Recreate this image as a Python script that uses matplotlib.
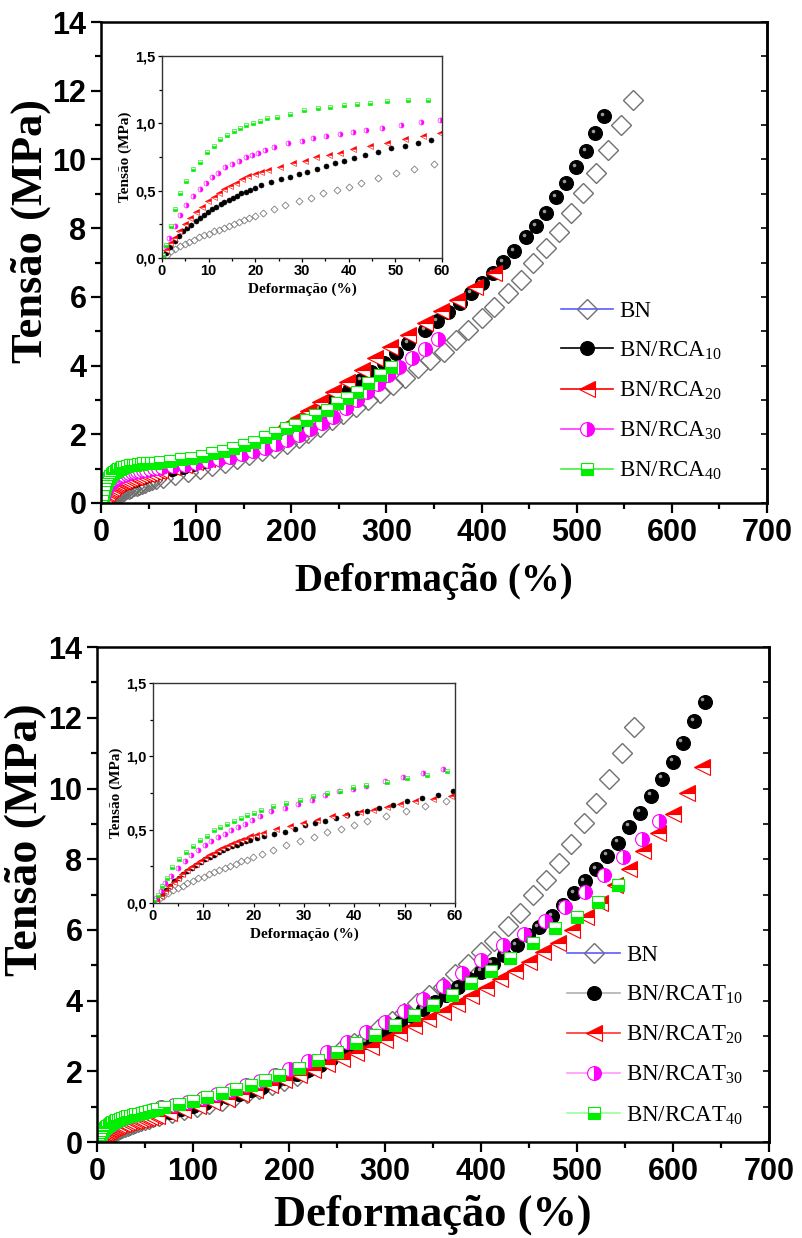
import matplotlib
matplotlib.use("Agg")
import matplotlib.pyplot as plt
from matplotlib.lines import Line2D
from matplotlib.ticker import MultipleLocator
from matplotlib.transforms import offset_copy
from matplotlib import font_manager

# ---------------- data ----------------
# strain (%) / stress (MPa); "_in" = 0-60 % detail shown in the insets,
# "_hi" = the rest of the curve in the main plot

# neat rubber (same in both panels)
bn_x_in = [1.1, 2.0, 2.9, 3.9, 4.9, 5.9, 6.8, 7.9, 9.0, 10.1, 11.1, 12.2, 13.2, 14.4, 15.4, 16.4,
           17.5, 18.6, 19.9, 21.6, 23.9, 26.4, 29.3, 32.0, 34.5, 37.4, 40.0, 42.6, 46.3, 50.2, 54.1, 58.2]
bn_y_in = [0.025, 0.05, 0.067, 0.086, 0.104, 0.118, 0.136, 0.153, 0.168, 0.18, 0.197, 0.21, 0.222, 0.239,
           0.252, 0.264, 0.284, 0.296, 0.313, 0.333, 0.363, 0.395, 0.42, 0.449, 0.481, 0.506, 0.53, 0.56,
           0.592, 0.629, 0.659, 0.696]
bn_x_hi = [65, 78, 91, 104, 117, 130, 143, 156, 169, 182, 195, 208, 218, 230, 243, 254, 268, 281, 293, 307,
           320, 333, 346, 360, 373, 386, 400, 413, 428, 441, 454, 468, 481, 494, 507, 520, 533, 547, 559]
bn_y_hi = [0.74, 0.82, 0.9, 0.98, 1.07, 1.17, 1.28, 1.39, 1.5, 1.6, 1.72, 1.88, 2.04, 2.21, 2.42, 2.6, 2.79,
           3.0, 3.2, 3.43, 3.64, 3.93, 4.16, 4.39, 4.74, 5.03, 5.38, 5.70, 6.11, 6.49, 6.98, 7.42, 7.89, 8.44,
           9.02, 9.6, 10.27, 11.0, 11.73]

# top panel: BN/RCA
rca10_x_in = [0.9, 1.8, 2.7, 3.6, 4.5, 5.4, 6.3, 7.2, 8.1, 9.0, 9.9, 10.8, 11.6, 12.6, 13.4, 14.4, 15.2, 16.1,
              17.0, 17.9, 18.8, 19.9, 21.3, 23.4, 25.4, 27.4, 29.4, 31.1, 33.2, 35.2, 37.1, 39.0, 41.1, 43.6,
              46.3, 49.1, 52.0, 54.9, 57.6]
rca10_y_in = [0.04, 0.08, 0.123, 0.16, 0.197, 0.222, 0.247, 0.271, 0.296, 0.321, 0.34, 0.363, 0.382, 0.4,
              0.414, 0.432, 0.449, 0.464, 0.479, 0.493, 0.506, 0.523, 0.543, 0.567, 0.587, 0.604, 0.622, 0.641,
              0.661, 0.683, 0.703, 0.723, 0.745, 0.765, 0.79, 0.814, 0.831, 0.856, 0.876]
rca10_x_hi = [64, 75, 86, 97, 108, 119, 130, 141, 152, 163, 174, 185, 196, 207, 218, 229, 240, 251, 262, 273,
              284, 297, 310, 323, 341, 353, 365, 377, 389, 400, 412, 423, 434, 447, 457, 468, 478, 489, 499,
              510, 519, 529]
rca10_y_hi = [0.92, 0.99, 1.06, 1.13, 1.21, 1.3, 1.4, 1.5, 1.61, 1.73, 1.86, 2.0, 2.16, 2.33, 2.52, 2.72, 2.93,
              3.14, 3.36, 3.58, 3.8, 4.07, 4.37, 4.66, 5.03, 5.30, 5.56, 5.83, 6.11, 6.4, 6.7, 7.01, 7.33, 7.74,
              8.06, 8.44, 8.9, 9.31, 9.78, 10.24, 10.77, 11.26]

rca20_x_in = [0.9, 1.8, 2.6, 3.6, 4.9, 6.1, 7.4, 8.6, 9.9, 11.1, 12.2, 13.4, 14.6, 15.9, 17.2, 18.4, 19.9, 21.3,
              22.7, 25.2, 28.1, 30.6, 33.1, 35.7, 38.1, 40.9, 44.5, 48.2, 52.0, 55.9, 59.5]
rca20_y_in = [0.06, 0.11, 0.148, 0.197, 0.254, 0.296, 0.345, 0.38, 0.42, 0.45, 0.486, 0.51, 0.538, 0.56, 0.587,
              0.61, 0.624, 0.64, 0.654, 0.678, 0.703, 0.723, 0.748, 0.765, 0.782, 0.807, 0.831, 0.856, 0.883,
              0.906, 0.93]
rca20_x_hi = [62, 75, 87, 99, 111, 123, 135, 147, 159, 171, 183, 195, 207, 218, 230, 244, 259, 274, 288, 304,
              323, 341, 357, 374, 393, 413]
rca20_y_hi = [0.96, 1.04, 1.12, 1.2, 1.29, 1.39, 1.5, 1.62, 1.75, 1.9, 2.07, 2.26, 2.46, 2.67, 2.95, 3.23, 3.52,
              3.87, 4.22, 4.54, 4.89, 5.24, 5.59, 5.91, 6.29, 6.69]

rca30_x_in = [0.8, 1.6, 2.7, 3.9, 5.2, 6.6, 8.1, 9.4, 10.8, 12.1, 13.6, 15.0, 16.4, 17.9, 19.3, 20.6, 22.0, 24.1,
              27.0, 29.9, 32.4, 35.2, 38.1, 40.9, 43.8, 47.2, 51.3, 55.4, 59.5]
rca30_y_in = [0.086, 0.148, 0.234, 0.32, 0.395, 0.46, 0.513, 0.56, 0.605, 0.634, 0.674, 0.698, 0.723, 0.748,
              0.765, 0.782, 0.802, 0.827, 0.851, 0.868, 0.888, 0.906, 0.92, 0.935, 0.95, 0.967, 0.987, 1.007, 1.024]
rca30_x_hi = [64, 76, 88, 100, 112, 124, 136, 148, 160, 172, 184, 196, 208, 220, 232, 244, 257, 269, 280, 291,
              302, 313, 327, 341, 354]
rca30_y_hi = [1.05, 1.08, 1.12, 1.16, 1.22, 1.28, 1.35, 1.42, 1.5, 1.6, 1.72, 1.84, 1.98, 2.15, 2.33, 2.5, 2.76,
              3.0, 3.23, 3.46, 3.73, 3.96, 4.22, 4.48, 4.77]

rca40_x_in = [0.3, 0.9, 1.9, 2.7, 3.9, 5.2, 6.6, 8.2, 9.7, 11.1, 12.5, 13.9, 15.4, 16.8, 18.1, 19.6, 21.1, 22.5,
              24.6, 27.5, 30.4, 33.4, 36.1, 38.9, 41.8, 44.6, 48.2, 52.7, 57.0]
rca40_y_in = [0.02, 0.1, 0.24, 0.365, 0.486, 0.57, 0.66, 0.716, 0.79, 0.834, 0.883, 0.913, 0.945, 0.967, 0.987,
              1.0, 1.02, 1.04, 1.05, 1.07, 1.10, 1.11, 1.12, 1.135, 1.147, 1.152, 1.165, 1.172, 1.172]
rca40_x_hi = [62, 73, 84, 95, 106, 117, 128, 139, 150, 161, 172, 183, 194, 204, 215, 225, 238, 248, 259, 269,
              281, 293, 305]
rca40_y_hi = [1.19, 1.23, 1.27, 1.32, 1.38, 1.45, 1.52, 1.6, 1.69, 1.79, 1.91, 2.04, 2.18, 2.27, 2.42, 2.56,
              2.71, 2.91, 3.06, 3.23, 3.49, 3.73, 3.96]

# bottom panel: BN/RCAT
rcat10_x_in = [0.8, 1.7, 2.5, 3.3, 4.2, 5.1, 6.0, 6.8, 7.8, 8.6, 9.5, 10.4, 11.3, 12.1, 13.1, 13.9, 14.8, 15.7,
               16.6, 17.4, 18.4, 19.2, 20.6, 22.0, 24.1, 26.2, 28.2, 30.2, 32.2, 34.2, 36.3, 38.5, 40.5, 42.6,
               45.0, 47.7, 50.4, 53.4, 56.7, 59.7]
rcat10_y_in = [0.018, 0.057, 0.091, 0.118, 0.148, 0.17, 0.198, 0.22, 0.239, 0.261, 0.28, 0.3, 0.314, 0.33,
               0.345, 0.359, 0.373, 0.386, 0.398, 0.409, 0.42, 0.432, 0.443, 0.455, 0.47, 0.482, 0.505, 0.53,
               0.545, 0.561, 0.58, 0.6, 0.614, 0.63, 0.65, 0.67, 0.693, 0.716, 0.739, 0.761]
rcat10_x_hi = [64, 76, 88, 100, 112, 124, 136, 148, 160, 172, 184, 196, 208, 220, 232, 244, 256, 268, 280, 292,
               304, 316, 328, 340, 352, 364, 376, 388, 400, 412, 424, 437, 449, 460, 474, 485, 497, 508, 520,
               531, 543, 554, 566, 577, 589, 600, 610, 622, 633]
rcat10_y_hi = [0.79, 0.86, 0.94, 1.02, 1.1, 1.18, 1.27, 1.36, 1.46, 1.57, 1.68, 1.8, 1.92, 2.05, 2.19, 2.34,
               2.49, 2.65, 2.82, 2.99, 3.17, 3.36, 3.56, 3.76, 3.96, 4.17, 4.38, 4.6, 4.82, 5.05, 5.3, 5.58, 5.86,
               6.09, 6.4, 6.71, 7.05, 7.39, 7.73, 8.1, 8.47, 8.92, 9.32, 9.8, 10.28, 10.76, 11.3, 11.9, 12.46]

rcat20_x_in = [0.7, 1.5, 2.3, 3.2, 4.1, 5.0, 5.8, 6.8, 7.6, 8.5, 9.4, 10.3, 11.1, 12.1, 12.9, 13.8, 14.7, 15.6,
               16.4, 17.4, 18.2, 19.2, 20.4, 21.9, 24.5, 27.2, 29.8, 32.5, 35.5, 38.1, 41.1, 43.8, 46.4, 49.1,
               52.1, 55.6, 59.3]
rcat20_y_in = [0.011, 0.045, 0.08, 0.114, 0.145, 0.17, 0.198, 0.223, 0.245, 0.268, 0.289, 0.307, 0.325, 0.341,
               0.359, 0.373, 0.386, 0.402, 0.414, 0.427, 0.439, 0.455, 0.466, 0.477, 0.505, 0.523, 0.545, 0.568,
               0.591, 0.602, 0.618, 0.636, 0.655, 0.677, 0.693, 0.709, 0.732]
rcat20_x_hi = [62, 75, 90, 105, 120, 135, 150, 165, 180, 195, 210, 225, 240, 255, 270, 285, 300, 315, 330, 345,
               360, 375, 390, 405, 420, 435, 450, 465, 480, 495, 509, 524, 540, 554, 569, 584, 600, 615, 630]
rcat20_y_hi = [0.75, 0.82, 0.91, 1.01, 1.12, 1.23, 1.35, 1.48, 1.62, 1.76, 1.91, 2.05, 2.2, 2.35, 2.52, 2.7,
               2.89, 3.08, 3.28, 3.48, 3.69, 3.9, 4.12, 4.35, 4.6, 4.85, 5.1, 5.37, 5.64, 6.0, 6.37, 6.77, 7.28,
               7.71, 8.22, 8.75, 9.29, 9.88, 10.6]

rcat30_x_in = [0.7, 1.5, 2.3, 3.6, 5.0, 6.3, 7.6, 9.0, 10.3, 11.6, 12.9, 14.3, 15.6, 16.9, 18.2, 19.6, 21.2,
               23.5, 26.2, 28.8, 31.5, 34.2, 37.0, 39.7, 42.4, 46.1, 49.6, 53.7, 57.6]
rcat30_y_in = [0.034, 0.08, 0.136, 0.186, 0.239, 0.284, 0.33, 0.364, 0.398, 0.425, 0.448, 0.473, 0.495, 0.516,
               0.539, 0.564, 0.595, 0.625, 0.648, 0.677, 0.705, 0.739, 0.761, 0.777, 0.8, 0.83, 0.859, 0.886, 0.914]
rcat30_x_hi = [67, 80, 95, 110, 125, 140, 155, 170, 185, 200, 220, 240, 260, 280, 300, 320, 340, 360, 380, 400,
               423, 445, 467, 487, 508, 528, 548, 568, 585]
rcat30_y_hi = [0.98, 1.05, 1.14, 1.24, 1.35, 1.47, 1.6, 1.74, 1.9, 2.07, 2.3, 2.55, 2.82, 3.1, 3.4, 3.72, 4.05,
               4.4, 4.77, 5.15, 5.58, 5.89, 6.26, 6.66, 7.08, 7.54, 8.05, 8.56, 9.09]

rcat40_x_in = [0.3, 1.0, 1.8, 2.7, 3.8, 5.2, 6.5, 8.0, 9.3, 10.7, 12.1, 13.4, 14.7, 16.0, 17.4, 18.7, 20.0, 21.4,
               23.9, 26.4, 29.2, 31.7, 34.5, 37.1, 39.8, 42.4, 46.4, 50.4, 54.4, 58.4]
rcat40_y_in = [0.02, 0.057, 0.114, 0.17, 0.245, 0.3, 0.348, 0.39, 0.43, 0.46, 0.495, 0.518, 0.54, 0.561, 0.58,
               0.598, 0.614, 0.632, 0.659, 0.682, 0.705, 0.727, 0.75, 0.766, 0.789, 0.802, 0.825, 0.852, 0.875,
               0.898]
rcat40_x_hi = [62, 70, 85, 100, 115, 130, 145, 160, 175, 190, 210, 230, 250, 270, 290, 310, 330, 350, 370, 390,
               410, 430, 454, 477, 500, 522, 543]
rcat40_y_hi = [0.94, 1.0, 1.08, 1.17, 1.27, 1.38, 1.5, 1.62, 1.76, 1.9, 2.1, 2.32, 2.55, 2.79, 3.04, 3.3, 3.58,
               3.87, 4.17, 4.5, 4.85, 5.2, 5.64, 6.06, 6.37, 6.8, 7.28]

labels_top = ['BN', r'BN/RCA$_{10}$', r'BN/RCA$_{20}$', r'BN/RCA$_{30}$', r'BN/RCA$_{40}$']
labels_bot = ['BN', r'BN/RCAT$_{10}$', r'BN/RCAT$_{20}$', r'BN/RCAT$_{30}$', r'BN/RCAT$_{40}$']
inset_yticks = [0.0, 0.5, 1.0, 1.5]
inset_yticklabels = ['0,0', '0,5', '1,0', '1,5']


def pick(*names):
    have = {f.name for f in font_manager.fontManager.ttflist}
    for n in names:
        if n in have:
            return n
    return 'DejaVu Sans'


SANS = pick('Liberation Sans', 'Arial')
SERIF = pick('Liberation Serif', 'Times New Roman', 'DejaVu Serif')
plt.rcParams['mathtext.fontset'] = 'custom'
plt.rcParams['mathtext.rm'] = SERIF
plt.rcParams['mathtext.it'] = SERIF + ':italic'

# marker styles (shared by both panels)
MARKERS = [
    dict(marker='D', ms=10, mfc='none', mec='#707070', fillstyle='none', mew=1.0),
    dict(marker='o', ms=10, mfc='black', mec='black', fillstyle='full', mew=0.8),
    dict(marker='<', ms=11, mfc='red', mfcalt='white', mec='red', fillstyle='top', mew=0.8),
    dict(marker='o', ms=10, mfc='#ff00ff', mfcalt='white', mec='#ff00ff', fillstyle='right', mew=0.8),
    dict(marker='s', ms=8, mfc='#00ee00', mfcalt='white', mec='#00ee00', fillstyle='bottom', mew=0.8),
]
line_top = ['#5b5bff', 'black', 'red', '#ff33ff', '#44ee44']
line_bot = ['#5b5bff', '#b0b0b0', '#ff3333', '#ff99ff', '#99ff99']


def mstyle(st, scale=1.0):
    d = dict(marker=st['marker'], markersize=st['ms'] * scale, markerfacecolor=st['mfc'],
             markeredgecolor=st['mec'], fillstyle=st['fillstyle'], markeredgewidth=st['mew'] * min(scale * 1.5, 1))
    if 'mfcalt' in st:
        d['markerfacecoloralt'] = st['mfcalt']
    return d


def panel(rect, inset_rect, series_in, series_hi, labels, line_cols, leg_anchor,
          ylab_y, xlab_y, xlab_size, ylab_size):
    ax = fig.add_axes(rect)
    for i, ((xi, yi), (xh, yh), st) in enumerate(zip(series_in, series_hi, MARKERS)):
        ax.plot(xi + xh, yi + yh, linestyle='none', **mstyle(st))
        if i == 1:
            # little grey glint on the black spheres
            glint = offset_copy(ax.transData, fig=fig, x=-1.6, y=1.6, units='points')
            ax.plot(xi + xh, yi + yh, linestyle='none', marker='o', ms=2.6, mfc='#9a9a9a',
                    mec='none', transform=glint)
    ax.set_xlim(0, 700)
    ax.set_ylim(0, 14)
    ax.xaxis.set_major_locator(MultipleLocator(100))
    ax.xaxis.set_minor_locator(MultipleLocator(50))
    ax.yaxis.set_major_locator(MultipleLocator(2))
    ax.yaxis.set_minor_locator(MultipleLocator(1))
    for s in ax.spines.values():
        s.set_linewidth(1.8)
    ax.tick_params(which='major', direction='out', length=7, width=1.6, labelsize=22)
    ax.tick_params(which='minor', direction='out', length=4, width=1.6)
    for t in ax.get_xticklabels() + ax.get_yticklabels():
        t.set_fontfamily(SANS)
        t.set_fontweight('bold')
    sec = ax.secondary_yaxis('right')
    sec.yaxis.set_major_locator(MultipleLocator(1))
    sec.tick_params(direction='in', length=4, width=1.2, labelright=False)
    sec.spines['right'].set_linewidth(1.8)

    ax.set_xlabel('Deformação (%)', fontfamily=SERIF, fontweight='bold', fontsize=xlab_size)
    ax.set_ylabel('Tensão (MPa)', fontfamily=SERIF, fontweight='bold', fontsize=ylab_size)
    ax.xaxis.set_label_coords(0.5, xlab_y)
    ax.yaxis.set_label_coords(-0.075, ylab_y)

    handles = [Line2D([], [], color=c, lw=1.2, **mstyle(st)) for c, st in zip(line_cols, MARKERS)]
    ax.legend(handles, labels, loc='center left', bbox_to_anchor=leg_anchor, frameon=False,
              prop=dict(family=SERIF, size=16.5), handlelength=2.3, handletextpad=0.25,
              labelspacing=0.78, borderaxespad=0, borderpad=0)

    ins = fig.add_axes(inset_rect)
    for (xi, yi), st in zip(series_in, MARKERS):
        ins.plot(xi, yi, linestyle='none', **mstyle(st, 0.36))
    ins.set_xlim(0, 60)
    ins.set_ylim(0, 1.5)
    ins.xaxis.set_major_locator(MultipleLocator(10))
    ins.xaxis.set_minor_locator(MultipleLocator(5))
    ins.set_yticks(inset_yticks, labels=inset_yticklabels)
    ins.yaxis.set_minor_locator(MultipleLocator(0.25))
    for s in ins.spines.values():
        s.set_linewidth(1.0)
        s.set_color('#333333')
    ins.tick_params(which='major', length=3, width=0.9, labelsize=10.5, pad=1.5)
    ins.tick_params(which='minor', length=2, width=0.9)
    for t in ins.get_xticklabels() + ins.get_yticklabels():
        t.set_fontfamily(SANS)
        t.set_fontweight('bold')
    ins.set_xlabel('Deformação (%)', fontfamily=SERIF, fontweight='bold', fontsize=11, labelpad=3)
    ins.set_ylabel('Tensão (MPa)', fontfamily=SERIF, fontweight='bold', fontsize=11, labelpad=2)
    return ax


fig = plt.figure(figsize=(8.03, 12.38), dpi=100)

top_in = [(bn_x_in, bn_y_in), (rca10_x_in, rca10_y_in), (rca20_x_in, rca20_y_in),
          (rca30_x_in, rca30_y_in), (rca40_x_in, rca40_y_in)]
top_hi = [(bn_x_hi, bn_y_hi), (rca10_x_hi, rca10_y_hi), (rca20_x_hi, rca20_y_hi),
          (rca30_x_hi, rca30_y_hi), (rca40_x_hi, rca40_y_hi)]
bot_in = [(bn_x_in, bn_y_in), (rcat10_x_in, rcat10_y_in), (rcat20_x_in, rcat20_y_in),
          (rcat30_x_in, rcat30_y_in), (rcat40_x_in, rcat40_y_in)]
bot_hi = [(bn_x_hi, bn_y_hi), (rcat10_x_hi, rcat10_y_hi), (rcat20_x_hi, rcat20_y_hi),
          (rcat30_x_hi, rcat30_y_hi), (rcat40_x_hi, rcat40_y_hi)]

panel([0.1258, 0.5937, 0.8294, 0.3885], [0.2017, 0.7916, 0.3487, 0.1632],
      top_in, top_hi, labels_top, line_top, (0.69, 0.232), 0.565, -0.125, 28, 32)
panel([0.1208, 0.0775, 0.8369, 0.3998], [0.1905, 0.2706, 0.3761, 0.1777],
      bot_in, bot_hi, labels_bot, line_bot, (0.70, 0.215), 0.61, -0.105, 32, 33)

fig.savefig('out.png', dpi=100)
